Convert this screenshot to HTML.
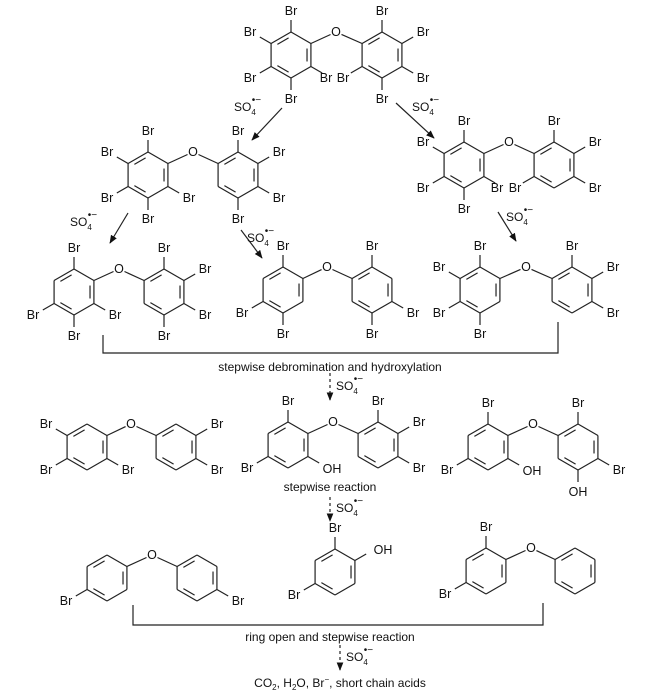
<!DOCTYPE html>
<html><head><meta charset="utf-8"><style>
html,body{margin:0;padding:0;background:#fff;}
svg{display:block;font-family:"Liberation Sans",Arial,sans-serif;}
.a{font-size:12.5px;text-anchor:middle;dominant-baseline:central;fill:#111;}
.t{font-size:12px;text-anchor:middle;fill:#111;}
.s{font-size:12px;fill:#111;}
</style></head><body>
<svg id="sv" width="650" height="692" viewBox="0 0 650 692" xmlns="http://www.w3.org/2000/svg">
<defs><marker id="ah" viewBox="0 0 10 10" refX="9" refY="5" markerWidth="7" markerHeight="7" orient="auto"><path d="M0,1 L10,5 L0,9 z" fill="#111"/></marker></defs>
<g id="bonds" stroke="#222" stroke-width="1.2" fill="none"></g>
<g stroke="#222" stroke-width="1.2" fill="none">
<line x1="282" y1="108" x2="252" y2="140" marker-end="url(#ah)"/>
<line x1="396" y1="103" x2="434" y2="138" marker-end="url(#ah)"/>
<line x1="128" y1="213" x2="110" y2="243" marker-end="url(#ah)"/>
<line x1="241" y1="230" x2="262" y2="258" marker-end="url(#ah)"/>
<line x1="498" y1="212" x2="516" y2="241" marker-end="url(#ah)"/>
<line x1="330" y1="373" x2="330" y2="400" stroke-dasharray="3,3" marker-end="url(#ah)"/>
<line x1="330" y1="497" x2="330" y2="521" stroke-dasharray="3,3" marker-end="url(#ah)"/>
<line x1="340" y1="645" x2="340" y2="670" stroke-dasharray="3,3" marker-end="url(#ah)"/>
<polyline points="103,335 103,353 558,353 558,322"/>
<polyline points="133,605 133,625 543,625 543,603"/>
</g>
<text class="s" x="234" y="111">SO<tspan font-size="8" dy="4">4</tspan><tspan font-size="10" dx="-4" dy="-12">•−</tspan></text>
<text class="s" x="412" y="111">SO<tspan font-size="8" dy="4">4</tspan><tspan font-size="10" dx="-4" dy="-12">•−</tspan></text>
<text class="s" x="70" y="226">SO<tspan font-size="8" dy="4">4</tspan><tspan font-size="10" dx="-4" dy="-12">•−</tspan></text>
<text class="s" x="247" y="242">SO<tspan font-size="8" dy="4">4</tspan><tspan font-size="10" dx="-4" dy="-12">•−</tspan></text>
<text class="s" x="506" y="221">SO<tspan font-size="8" dy="4">4</tspan><tspan font-size="10" dx="-4" dy="-12">•−</tspan></text>
<text class="s" x="336" y="390">SO<tspan font-size="8" dy="4">4</tspan><tspan font-size="10" dx="-4" dy="-12">•−</tspan></text>
<text class="s" x="336" y="512">SO<tspan font-size="8" dy="4">4</tspan><tspan font-size="10" dx="-4" dy="-12">•−</tspan></text>
<text class="s" x="346" y="661">SO<tspan font-size="8" dy="4">4</tspan><tspan font-size="10" dx="-4" dy="-12">•−</tspan></text>
<text class="t" x="330" y="371">stepwise debromination and hydroxylation</text>
<text class="t" x="330" y="491">stepwise reaction</text>
<text class="t" x="330" y="641">ring open and stepwise reaction</text>
<text class="t" x="340" y="687">CO<tspan font-size="8" dy="3">2</tspan><tspan dy="-3">, H</tspan><tspan font-size="8" dy="3">2</tspan><tspan dy="-3">O, Br</tspan><tspan font-size="8" dy="-5">−</tspan><tspan dy="5">, short chain acids</tspan></text>
<g class="a">
<text x="336" y="32">O</text>
<text x="291" y="11">Br</text><text x="250" y="32">Br</text><text x="250" y="78">Br</text><text x="291" y="99">Br</text><text x="326" y="78">Br</text>
<text x="382" y="11">Br</text><text x="423" y="32">Br</text><text x="423" y="78">Br</text><text x="382" y="99">Br</text><text x="343" y="78">Br</text>

<text x="193" y="152">O</text>
<text x="148" y="131">Br</text><text x="107" y="152">Br</text><text x="107" y="198">Br</text><text x="148" y="219">Br</text><text x="189" y="198">Br</text>
<text x="238" y="131">Br</text><text x="279" y="152">Br</text><text x="279" y="198">Br</text><text x="238" y="219">Br</text>

<text x="509" y="142">O</text>
<text x="464" y="121">Br</text><text x="423" y="142">Br</text><text x="423" y="188">Br</text><text x="464" y="209">Br</text><text x="497" y="188">Br</text>
<text x="554" y="121">Br</text><text x="595" y="142">Br</text><text x="595" y="188">Br</text><text x="515" y="188">Br</text>

<text x="119" y="269">O</text>
<text x="74" y="248">Br</text><text x="33" y="315">Br</text><text x="74" y="336">Br</text><text x="115" y="315">Br</text>
<text x="164" y="248">Br</text><text x="205" y="269">Br</text><text x="205" y="315">Br</text><text x="164" y="336">Br</text>

<text x="327" y="267">O</text>
<text x="283" y="246">Br</text><text x="242" y="313">Br</text><text x="283" y="334">Br</text>
<text x="372" y="246">Br</text><text x="413" y="313">Br</text><text x="372" y="334">Br</text>

<text x="526" y="267">O</text>
<text x="480" y="246">Br</text><text x="439" y="267">Br</text><text x="439" y="313">Br</text><text x="480" y="334">Br</text>
<text x="572" y="246">Br</text><text x="613" y="267">Br</text><text x="613" y="313">Br</text>

<text x="131" y="424">O</text>
<text x="46" y="424">Br</text><text x="46" y="470">Br</text><text x="128" y="470">Br</text>
<text x="217" y="424">Br</text><text x="217" y="470">Br</text>

<text x="333" y="422">O</text>
<text x="288" y="401">Br</text><text x="247" y="468">Br</text><text x="332" y="469">OH</text>
<text x="378" y="401">Br</text><text x="419" y="422">Br</text><text x="419" y="468">Br</text>

<text x="533" y="424">O</text>
<text x="488" y="403">Br</text><text x="447" y="470">Br</text><text x="532" y="471">OH</text>
<text x="578" y="403">Br</text><text x="619" y="470">Br</text><text x="578" y="492">OH</text>

<text x="152" y="555">O</text>
<text x="66" y="601">Br</text><text x="238" y="601">Br</text>

<text x="335" y="528">Br</text><text x="383" y="550">OH</text><text x="294" y="595">Br</text>

<text x="531" y="548">O</text>
<text x="486" y="527">Br</text><text x="445" y="594">Br</text>
</g>
</svg>
<script>
(function(){
var g=document.getElementById('bonds'),NS='http://www.w3.org/2000/svg',R=23;
function L(x1,y1,x2,y2){var l=document.createElementNS(NS,'line');l.setAttribute('x1',x1);l.setAttribute('y1',y1);l.setAttribute('x2',x2);l.setAttribute('y2',y2);g.appendChild(l);}
function V(c,i,r){var a=(-90+60*i)*Math.PI/180;return [c[0]+r*Math.cos(a),c[1]+r*Math.sin(a)];}
function ring(c,subs,dbl){
  for(var i=0;i<6;i++){var p=V(c,i,R),q=V(c,(i+1)%6,R);L(p[0],p[1],q[0],q[1]);}
  (dbl||[1,3,5]).forEach(function(i){var p=V(c,i,R-4.5),q=V(c,(i+1)%6,R-4.5);
    var dx=q[0]-p[0],dy=q[1]-p[1];L(p[0]+dx*.15,p[1]+dy*.15,q[0]-dx*.15,q[1]-dy*.15);});
  (subs||[]).forEach(function(i){var p=V(c,i,R),q=V(c,i,(i==0||i==3)?R+12:R+13);L(p[0],p[1],q[0],q[1]);});
}
function ether(a,b,o){var p=V(a,1,R),q=V(b,5,R);
  var dx=o[0]-p[0],dy=o[1]-p[1],d=Math.hypot(dx,dy);L(p[0],p[1],o[0]-dx/d*6,o[1]-dy/d*6);
  dx=q[0]-o[0];dy=q[1]-o[1];d=Math.hypot(dx,dy);L(o[0]+dx/d*6,o[1]+dy/d*6,q[0],q[1]);}
function mol(a,sa,b,sb,o){ring(a,sa);ring(b,sb);ether(a,b,o);}
mol([291,55],[0,5,4,3,2],[382,55],[0,1,2,3,4],[336,32]);
mol([148,175],[0,5,4,3,2],[238,175],[0,1,2,3],[193,152]);
mol([464,165],[0,5,4,3,2],[554,165],[0,1,2,4],[509,142]);
mol([74,292],[0,4,3,2],[164,292],[0,1,2,3],[119,269]);
mol([283,290],[0,4,3],[372,290],[0,2,3],[327,267]);
mol([480,290],[0,5,4,3],[572,290],[0,1,2],[526,267]);
mol([87,447],[5,4,2],[176,447],[1,2],[131,424]);
mol([288,445],[0,4,2],[378,445],[0,1,2],[333,422]);
mol([488,447],[0,4,2],[578,447],[0,2,3],[533,424]);
mol([107,578],[4],[197,578],[2],[152,555]);
ring([335,572],[0,1,4]);
mol([486,571],[0,4],[575,571],[],[531,548]);
})();
</script>
</body></html>
